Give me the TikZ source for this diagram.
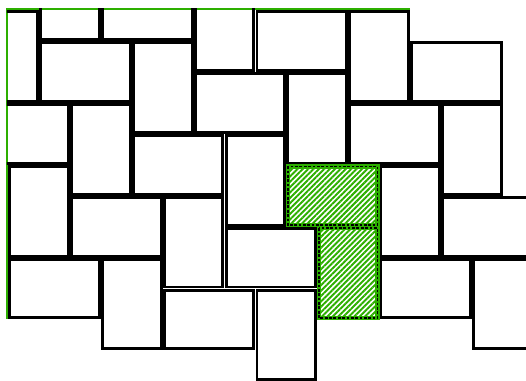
\documentclass[tikz,border=0pt]{standalone}
\usetikzlibrary{patterns.meta}

\definecolor{fieldgreen}{RGB}{45,175,0}
\newcommand{\gap}{0.05}

\begin{document}
\begin{tikzpicture}[x=1cm, y=-1cm,
    tile/.style={draw=black, line width=2.7pt},
    marked/.style={draw=fieldgreen, line width=4pt,
      pattern={Lines[angle=45, distance=3.5pt, line width=1.8pt]}, pattern color=fieldgreen},
    markedge/.style={draw=black, line width=1.5pt, dash pattern=on 2.5pt off 1.5pt}]
    \useasboundingbox (-0.26,-0.33) rectangle (16.75,11.97);
    \clip (-0.26,-0.33) rectangle (16.75,11.97);

    % border of the field
    \draw[fieldgreen, line width=2pt] (13,-0.04) -- (-0.04,-0.04) -- (-0.04,10);

    \begin{scope}
    \clip (-0.04,-0.04) rectangle (17,12.5);
    \foreach \xa/\ya/\xb/\yb in {-1/0/1/3, 1/-2/3/1, 3/-1/6/1, 1/1/4/3, 4/1/6/4,
        6/-1/8/2, 8/0/11/2, 11/0/13/3, 13/1/16/3, -1/3/2/5, 2/3/4/6, 6/2/9/4,
        9/2/11/5, 11/3/14/5, 14/3/16/6, 4/4/7/6, 7/4/9/7, 0/5/2/8, 2/6/5/8,
        5/6/7/9, 12/5/14/8, 14/6/17/8, 7/7/10/9, 0/8/3/10, 3/8/5/11, 5/9/8/11,
        8/9/10/12, 12/8/15/10, 15/8/17/11}
        \draw[tile] (\xa+\gap,\ya+\gap) rectangle (\xb-\gap,\yb-\gap);

    \foreach \xa/\ya/\xb/\yb in {9/5/12/7, 10/7/12/10} {
        \draw[marked] (\xa+\gap,\ya+\gap) rectangle (\xb-\gap,\yb-\gap);
        \draw[markedge] (\xa+\gap,\ya+\gap) rectangle (\xb-\gap,\yb-\gap);
    }
    \end{scope}
\end{tikzpicture}
\end{document}
